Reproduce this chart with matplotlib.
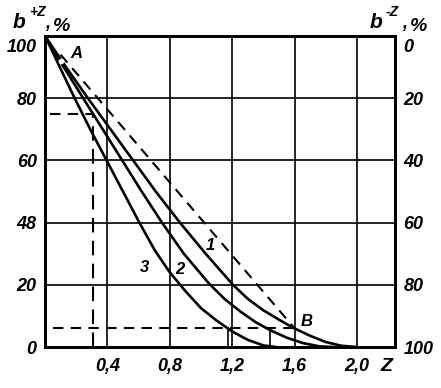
import matplotlib

matplotlib.use("Agg")
import matplotlib.pyplot as plt
from matplotlib.transforms import ScaledTranslation

# values (z, b+z %)
curve1_z = [0, 0.135, 0.275, 0.42, 0.565, 0.71, 0.865, 1.03, 1.205, 1.3, 1.4, 1.5, 1.59, 1.7, 1.8, 1.9, 2.0]
curve1_b = [100, 90, 80, 70, 60, 50, 40, 30, 20, 15.5, 11.8, 8.8, 6.2, 3.6, 1.6, 0.4, 0]
curve2_z = [0, 0.12, 0.245, 0.37, 0.495, 0.62, 0.75, 0.89, 1.05, 1.15, 1.25, 1.35, 1.44, 1.55, 1.65, 1.76, 1.85]
curve2_b = [100, 90, 80, 70, 60, 50, 40, 30, 20.5, 15.5, 11.5, 8, 5.5, 3, 1.3, 0.2, 0]
curve3_z = [0, 0.095, 0.19, 0.29, 0.395, 0.5, 0.605, 0.705, 0.8, 0.9, 1.0, 1.1, 1.2, 1.3, 1.4, 1.48]
curve3_b = [100, 90, 80, 70, 60, 50, 40, 31, 24, 18, 12.5, 8.5, 5, 2.3, 0.5, 0]

# secant A-B and the construction lines
secant_z = [0.1, 1.6]
secant_b = [94, 6]
level_high = 75
level_low = 6
z_high = 0.31
z_marks = [1.175, 1.44]

x_ticks = [0.4, 0.8, 1.2, 1.6, 2.0]
x_labels = ["0,4", "0,8", "1,2", "1,6", "2,0"]
left_ticks = [0, 20, 40, 60, 80, 100]
left_labels = ["0", "20", "48", "60", "80", "100"]
right_ticks = [0, 20, 40, 60, 80, 100]

FONT = dict(family=["Liberation Sans", "DejaVu Sans"], style="italic", weight="bold")


def _corner_label(fig, x0: float, sign: str) -> None:
    # b with a superscript, then ", %" -- positions in pixels from the top-left
    def put(dx, base, text, size):
        fig.text((x0 + dx) / 441, 1 - base / 388, text, fontsize=size, **FONT)

    put(0, 28, "b", 15)
    put(16, 16, sign + "Z", 10)
    put(32, 28, ",", 13)
    put(40, 31, "%", 14)


def main() -> None:
    fig = plt.figure(figsize=(4.41, 3.88), dpi=100)
    ax = fig.add_axes([45 / 441, 41 / 388, 350 / 441, 311 / 388])
    ax.set_xlim(0, 2.244)
    ax.set_ylim(0, 100)

    for x in x_ticks:
        ax.axvline(x, color="black", lw=1.2, zorder=1)
    for y in left_ticks[1:-1]:
        ax.axhline(y, color="black", lw=1.2, zorder=1)

    for zs, bs in [(curve1_z, curve1_b), (curve2_z, curve2_b), (curve3_z, curve3_b)]:
        ax.plot(zs, bs, color="black", lw=1.9, zorder=3, solid_capstyle="round", solid_joinstyle="round")

    ax.plot(secant_z, secant_b, color="black", lw=1.5, ls=(0, (5, 3.5)), zorder=3)
    ax.plot([0.03, z_high], [level_high, level_high], color="black", lw=1.5, ls=(0, (5, 3.5)))
    ax.plot([z_high, z_high], [0, level_high], color="black", lw=1.5, ls=(0, (7, 4)))
    ax.plot([0.05, secant_z[1]], [level_low, level_low], color="black", lw=1.5, ls=(0, (5, 3.5)))
    for z in z_marks:
        ax.plot([z, z], [0, level_low], color="black", lw=1.2)
    ax.plot([0.1], [92], marker="o", ms=3, mfc="white", mec="white", zorder=4)

    ax.text(0.2, 94.5, "A", ha="center", va="center", fontsize=12, **FONT)
    ax.text(1.68, 8.2, "B", ha="center", va="center", fontsize=12, **FONT)
    ax.text(1.06, 32.5, "1", ha="center", va="center", fontsize=12, **FONT)
    ax.text(0.865, 25, "2", ha="center", va="center", fontsize=12, **FONT)
    ax.text(0.64, 25.7, "3", ha="center", va="center", fontsize=12, **FONT)

    ax.set_xticks(x_ticks, labels=x_labels)
    ax.set_yticks(left_ticks, labels=left_labels)
    ax.tick_params(length=0, labelsize=13, pad=6)
    ax.tick_params(axis="x", pad=8)
    for lab in ax.get_xticklabels() + ax.get_yticklabels():
        lab.set(**FONT)

    right = ax.twinx()
    right.set_ylim(100, 0)
    right.set_yticks(right_ticks)
    right.tick_params(length=0, labelsize=13, pad=6)
    for lab in right.get_yticklabels():
        lab.set(**FONT)

    # the top labels sit just under the frame in the reference
    shift = ScaledTranslation(0, -7 / 72, fig.dpi_scale_trans)
    top_left = ax.get_yticklabels()[-1]
    top_left.set_transform(top_left.get_transform() + shift)
    top_right = right.get_yticklabels()[0]
    top_right.set_transform(top_right.get_transform() + shift)

    for a in (ax, right):
        for spine in a.spines.values():
            spine.set_linewidth(2)

    ax.text(2.19, -3.5, "Z", ha="center", va="top", fontsize=14, **FONT, clip_on=False)

    _corner_label(fig, 13, "+")
    _corner_label(fig, 370, "-")

    fig.savefig("out.png", dpi=100)
    plt.close(fig)


if __name__ == "__main__":
    main()
